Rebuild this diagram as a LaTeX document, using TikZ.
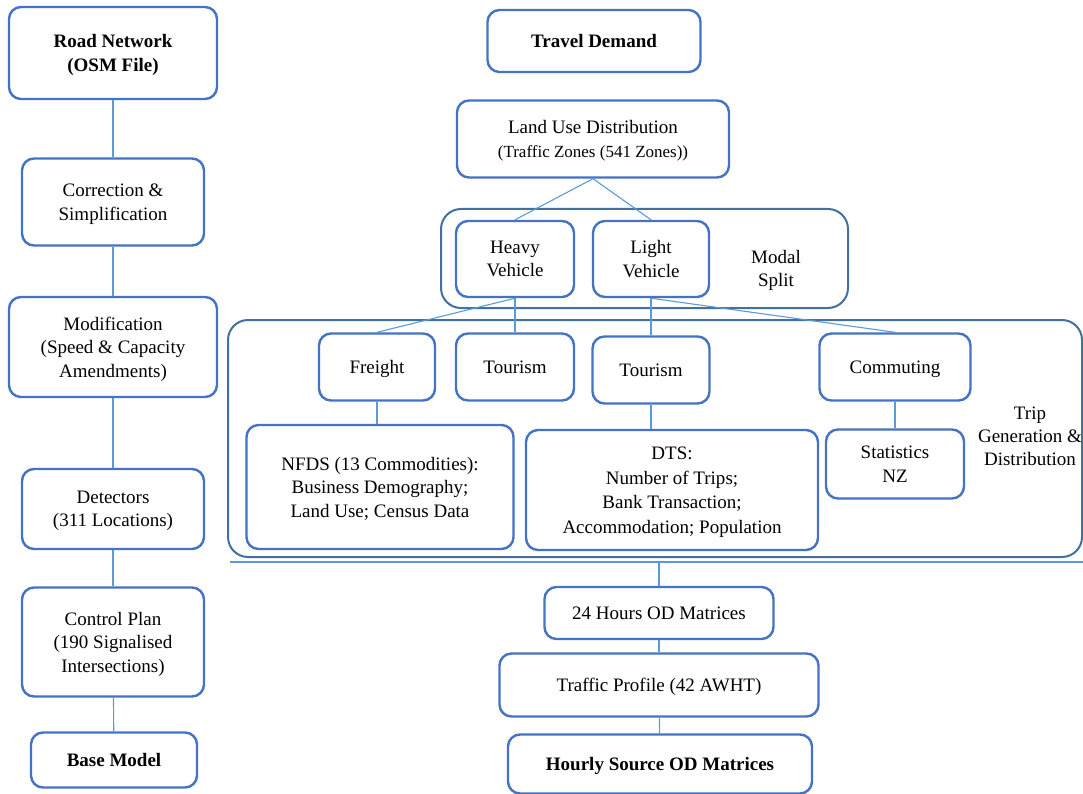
\documentclass[tikz,border=0pt]{standalone}
\usepackage{fontspec}
\setmainfont{Liberation Serif}
\definecolor{boxblue}{RGB}{68,114,196}
\definecolor{outerblue}{RGB}{66,113,160}
\definecolor{linkblue}{RGB}{91,155,213}

\begin{document}
\begin{tikzpicture}[x=1pt, y=1pt]
	\tikzstyle{box} = [draw=boxblue, line width=2.4pt, rounded corners=12pt, align=center, inner sep=2pt, font=\fontsize{19}{23.5}\selectfont, text depth=-4pt]
	\tikzstyle{outer} = [draw=outerblue, line width=2pt, rounded corners=20pt]
	\tikzstyle{label} = [align=center, font=\fontsize{19}{23}\selectfont]
	\tikzstyle{link} = [draw=linkblue, line width=1.1pt]
	\useasboundingbox (0,0) rectangle (1083,-794);
	% left column
	\node[box, minimum width=208, minimum height=92, font=\fontsize{19}{24}\selectfont\bfseries] (road) at (113,-53) {Road Network\\(OSM File)};
	\node[box, minimum width=182, minimum height=87] (corr) at (113,-202) {Correction \&\\Simplification};
	\node[box, minimum width=208, minimum height=100] (modif) at (113,-347) {Modification\\(Speed \& Capacity\\Amendments)};
	\node[box, minimum width=182, minimum height=80] (detect) at (113,-509) {Detectors\\(311 Locations)};
	\node[box, minimum width=182, minimum height=109] (ctrl) at (113,-642) {Control Plan\\(190 Signalised\\Intersections)};
	\node[box, minimum width=166, minimum height=55, font=\fontsize{19}{23}\selectfont\bfseries] (base) at (114,-760) {Base Model};
	% demand side
	\node[box, minimum width=213, minimum height=62, font=\fontsize{19}{23}\selectfont\bfseries] (travel) at (594,-41) {Travel Demand};
	\node[box, minimum width=272, minimum height=77] (landuse) at (593,-139) {Land Use Distribution\\{\fontsize{17}{22}\selectfont (Traffic Zones (541 Zones))}};
	\node[outer, minimum width=407, minimum height=99] (modal) at (644.5,-258.5) {};
	\node[box, minimum width=118, minimum height=76] (heavy) at (515,-259) {Heavy\\Vehicle};
	\node[box, minimum width=116, minimum height=76] (light) at (651,-259) {Light\\Vehicle};
	\node[label] (modaltxt) at (776,-270) {Modal\\Split};
	\node[outer, minimum width=854, minimum height=237] (trip) at (655,-438.5) {};
	\node[box, minimum width=116, minimum height=67] (freight) at (377,-367) {Freight};
	\node[box, minimum width=118, minimum height=67] (tourA) at (515,-367) {Tourism};
	\node[box, minimum width=117, minimum height=67] (tourB) at (651,-370) {Tourism};
	\node[box, minimum width=151, minimum height=67] (commute) at (895,-367) {Commuting};
	\node[box, minimum width=267, minimum height=124] (nfds) at (380,-487) {NFDS (13 Commodities):\\Business Demography;\\Land Use; Census Data};
	\node[box, minimum width=292, minimum height=120, font=\fontsize{19}{24.5}\selectfont] (dts) at (672,-490) {DTS:\\Number of Trips;\\Bank Transaction;\\Accommodation; Population};
	\node[box, minimum width=138, minimum height=69] (stats) at (895,-464) {Statistics\\NZ};
	\node[label] (triptxt) at (1030,-436) {Trip\\Generation \&\\Distribution};
	\node[box, minimum width=229, minimum height=52] (od24) at (659,-613) {24 Hours OD Matrices};
	\node[box, minimum width=319, minimum height=63] (profile) at (659,-685) {Traffic Profile (42 AWHT)};
	\node[box, minimum width=304, minimum height=59, font=\fontsize{19}{23}\selectfont\bfseries] (hourly) at (660,-764) {Hourly Source OD Matrices};
	\coordinate (baseL) at (230,-562);
	\coordinate (baseR) at (1083,-562);
	\coordinate (baseM) at (659,-562);
	% connectors
	\draw [link] (road)--(corr);
	\draw [link] (corr)--(modif);
	\draw [link] (modif)--(detect);
	\draw [link] (detect)--(ctrl);
	\draw [link] (ctrl)--(base);
	\draw [link] (landuse.south)--(heavy.north);
	\draw [link] (landuse.south)--(light.north);
	\draw [link] (heavy.south)--(freight.north);
	\draw [link] (heavy.south)--(tourA.north);
	\draw [link] (light.south)--(tourB.north);
	\draw [link] (light.south)--(commute.north);
	\draw [link] (freight)--(nfds.north -| freight);
	\draw [link] (tourB)--(dts.north -| tourB);
	\draw [link] (commute)--(stats);
	\draw [link] (baseL)--(baseR);
	\draw [link] (baseM)--(od24);
	\draw [link] (od24)--(profile);
	\draw [link] (profile)--(hourly);
\end{tikzpicture}
\end{document}
